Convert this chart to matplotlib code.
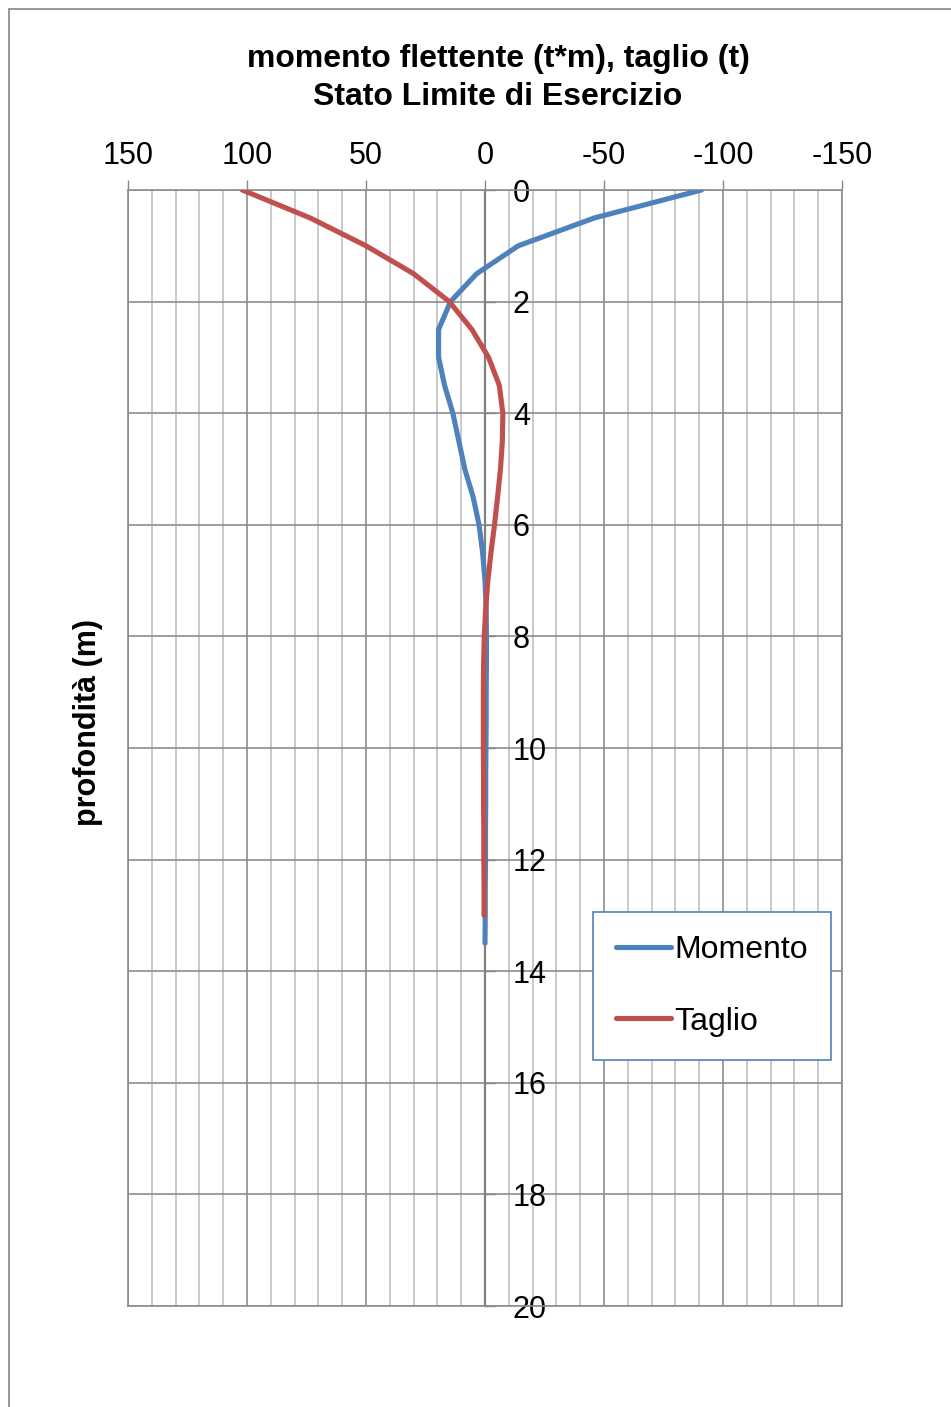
import matplotlib
matplotlib.use("Agg")
import matplotlib.pyplot as plt
from matplotlib.patches import Rectangle

plt.rcParams['font.family'] = ['Liberation Sans', 'DejaVu Sans']

# Bending moment (t*m) along the pile, depth in metres
depth_momento = [0, 0.5, 1.0, 1.5, 2.0, 2.5, 3.0, 3.5, 4.0, 4.5, 5.0, 5.5, 6.0, 6.5,
                 7.0, 7.5, 8.0, 8.5, 9.0, 9.5, 10.0, 10.5, 11.0, 11.5, 12.0, 12.5, 13.0, 13.5]
momento = [-91, -46, -14, 3.5, 14.5, 19.5, 19.5, 17, 13.5, 11, 8.5, 5, 2.5, 1,
           0, -0.5, -0.6, -0.6, -0.5, -0.5, -0.4, -0.3, -0.3, -0.2, -0.2, -0.1, -0.1, 0]

# Shear (t) along the pile
depth_taglio = [0, 0.5, 1.0, 1.5, 2.0, 2.5, 3.0, 3.5, 4.0, 4.5, 5.0, 5.5, 6.0, 6.5,
                7.0, 7.5, 8.0, 8.5, 9.0, 9.5, 10.0, 10.5, 11.0, 11.5, 12.0, 12.5, 13.0]
taglio = [102, 73.5, 50, 30, 15, 5.5, -1.5, -6, -7.5, -7.3, -6.5, -5.3, -4, -2.5,
          -1.2, -0.3, 0.3, 0.6, 0.7, 0.7, 0.7, 0.6, 0.6, 0.5, 0.5, 0.4, 0.4]

x_ticks = [150, 100, 50, 0, -50, -100, -150]
x_labels = ['150', '100', '50', '0', '-50', '-100', '-150']
y_ticks = [0, 2, 4, 6, 8, 10, 12, 14, 16, 18, 20]
y_labels = [str(v) for v in y_ticks]

W, H = 951, 1407
fig = plt.figure(figsize=(W / 100, H / 100), dpi=100)

# outer chart-area border
fig.add_artist(Rectangle((8.5 / W, -0.2), 1.5, 1.2 - 8.5 / H,
                         transform=fig.transFigure, fill=False,
                         edgecolor='#868686', linewidth=1.2))

ax = fig.add_axes([128 / W, 1 - 1306 / H, 714 / W, 1116 / H])
ax.set_xlim(150, -150)
ax.set_ylim(20, 0)

blue = '#4f81bd'
red = '#c0504d'
ax.plot(momento, depth_momento, color=blue, lw=3.7, label='Momento',
        solid_capstyle='round', solid_joinstyle='round', zorder=4)
ax.plot(taglio, depth_taglio, color=red, lw=3.7, label='Taglio',
        solid_capstyle='round', solid_joinstyle='round', zorder=4)

ax.set_xticks(x_ticks)
ax.set_xticklabels(x_labels)
ax.set_xticks(list(range(-150, 151, 10)), minor=True)
ax.set_yticks(y_ticks)
ax.set_yticklabels(y_labels)

ax.xaxis.tick_top()
ax.tick_params(axis='x', which='major', direction='out', length=7, width=1,
               color='#868686', labelsize=22, pad=7)
ax.tick_params(axis='x', which='minor', length=0)

ax.yaxis.tick_right()
ax.spines['right'].set_position(('data', 0))
ax.tick_params(axis='y', direction='out', length=7, width=1,
               color='#868686', labelsize=22, pad=13)

ax.set_axisbelow(True)
ax.grid(which='minor', axis='x', color='#c0c0c0', lw=1.2)
ax.grid(which='major', axis='x', color='#8c8c8c', lw=1.2)
ax.grid(which='major', axis='y', color='#8c8c8c', lw=1.2)

for side in ('left', 'top', 'bottom'):
    ax.spines[side].set_color('#8c8c8c')
    ax.spines[side].set_linewidth(1.2)
ax.spines['right'].set_color('#808080')
ax.spines['right'].set_linewidth(1.6)
ax.axvline(-150, color='#8c8c8c', lw=1.2, clip_on=False, zorder=1)

leg = ax.legend(loc='upper left', bbox_to_anchor=(593 / W, 1 - 912 / H),
                bbox_transform=fig.transFigure, fontsize=23, frameon=True,
                fancybox=False, edgecolor=blue, framealpha=1,
                handlelength=1.72, handletextpad=0.1, labelspacing=1.3,
                borderpad=0.72, borderaxespad=0)
leg.get_frame().set_linewidth(1.2)

fig.text(498 / W, 1 - 78 / H,
         "momento flettente (t*m), taglio (t)\nStato Limite di Esercizio",
         ha='center', va='center', fontsize=23, fontweight='bold', linespacing=1.36)

fig.text(88 / W, 1 - 722 / H, 'profondità (m)', rotation=90,
         ha='center', va='center', fontsize=22, fontweight='bold')

fig.savefig('out.png', dpi=100)
